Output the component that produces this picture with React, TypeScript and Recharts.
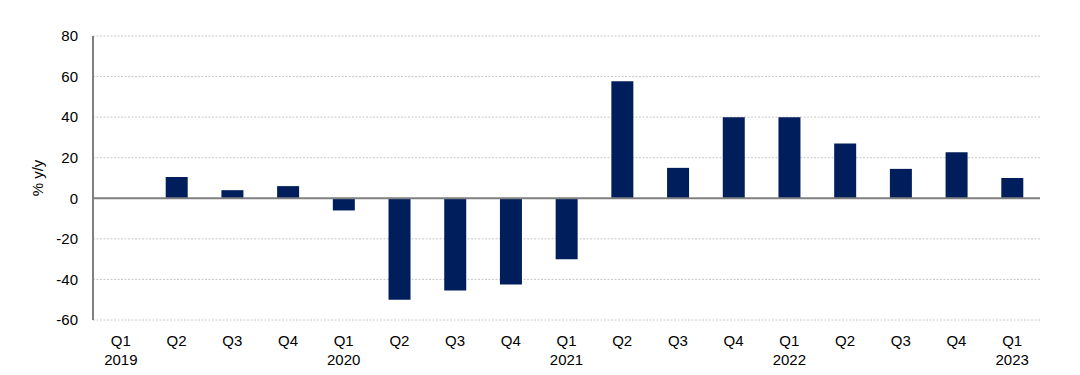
import { BarChart, Bar, XAxis, YAxis, CartesianGrid, ReferenceLine } from 'recharts';

const quarters = ['Q1', 'Q2', 'Q3', 'Q4', 'Q1', 'Q2', 'Q3', 'Q4', 'Q1', 'Q2', 'Q3', 'Q4', 'Q1', 'Q2', 'Q3', 'Q4', 'Q1'];
const years = ['2019', '', '', '', '2020', '', '', '', '2021', '', '', '', '2022', '', '', '', '2023'];
const growth = [0, 10.5, 4, 6, -6, -50, -45.5, -42.5, -30, 57.7, 15, 40, 40, 27, 14.5, 22.7, 10];
const yTicks = [-60, -40, -20, 0, 20, 40, 60, 80];

const data = quarters.map((q, i) => ({ q, year: years[i], value: growth[i] }));

const font = 'Liberation Sans, Arial, sans-serif';

function QuarterTick({ x, y, payload, index }: any) {
  const year = years[index];
  return (
    <g transform={`translate(${x},${y})`}>
      <text textAnchor="middle" fontFamily={font} fontSize={15} fill="#000" y={18}>
        {payload.value}
      </text>
      {year && (
        <text textAnchor="middle" fontFamily={font} fontSize={15} fill="#000" y={37}>
          {year}
        </text>
      )}
    </g>
  );
}

export default function App() {
  return (
    <div style={{ position: 'absolute', left: 0, top: 0, background: '#fff' }}>
      <BarChart width={1080} height={375} data={data} margin={{ top: 36, right: 40, left: 33, bottom: 15 }}>
        <CartesianGrid vertical={false} stroke="#c8c8c8" strokeDasharray="2 1.5" />
        <XAxis
          dataKey="q"
          interval={0}
          axisLine={false}
          tickLine={false}
          height={40}
          tick={<QuarterTick />}
        />
        <YAxis
          domain={[-60, 80]}
          ticks={yTicks}
          width={60}
          tickLine={false}
          tickMargin={9}
          axisLine={{ stroke: '#808080', strokeWidth: 2 }}
          tick={{ fill: '#000', fontSize: 15, fontFamily: font }}
          label={{ value: '% y/y', angle: -90, position: 'insideLeft', offset: 0, dx: 5, style: { fontFamily: font, fontSize: 15, fill: '#000', textAnchor: 'middle' } }}
        />
        <ReferenceLine y={0} stroke="#808080" strokeWidth={2} />
        <Bar dataKey="value" fill="#001E5B" barSize={22} isAnimationActive={false} />
      </BarChart>
    </div>
  );
}
